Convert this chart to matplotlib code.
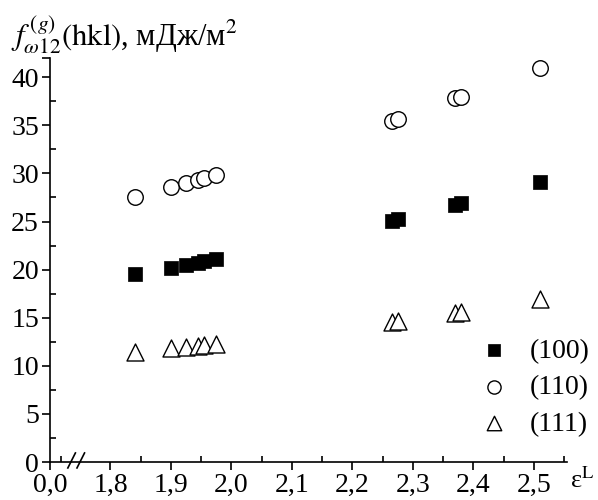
import matplotlib
matplotlib.use("Agg")
import matplotlib.pyplot as plt
import numpy as np

# strain values (x) and surface energies for three faces
eps = [1.84, 1.90, 1.925, 1.945, 1.955, 1.975, 2.265, 2.275, 2.37, 2.38, 2.51]
f100 = [19.5, 20.2, 20.5, 20.7, 20.9, 21.1, 25.1, 25.3, 26.7, 26.9, 29.1]
f110 = [27.6, 28.6, 29.0, 29.3, 29.5, 29.8, 35.5, 35.7, 37.8, 37.9, 41.0]
f111 = [11.4, 11.9, 12.0, 12.1, 12.2, 12.3, 14.6, 14.7, 15.5, 15.6, 16.9]
labels = ["(100)", "(110)", "(111)"]

xticks = [1.7, 1.8, 1.9, 2.0, 2.1, 2.2, 2.3, 2.4, 2.5]
xticklabels = ["0,0", "1,8", "1,9", "2,0", "2,1", "2,2", "2,3", "2,4", "2,5"]
yticks = [0, 5, 10, 15, 20, 25, 30, 35, 40, 42]
yticklabels = ["0", "5", "10", "15", "20", "25", "30", "35", "40", ""]

plt.rcParams["font.family"] = ["Liberation Serif", "DejaVu Serif"]
plt.rcParams["mathtext.fontset"] = "stix"

fig = plt.figure(figsize=(5.98, 5.0), dpi=100)
ax = fig.add_axes([50 / 598, 38 / 500, 517 / 598, 404 / 500])

ax.scatter(eps, f100, marker="s", s=100, c="black", edgecolors="black", linewidths=0.5, label=labels[0], zorder=3)
ax.scatter(eps, f110, marker="o", s=125, facecolors="white", edgecolors="black", linewidths=1.0, label=labels[1], zorder=3)
ax.scatter(eps, f111, marker="^", s=150, facecolors="white", edgecolors="black", linewidths=1.0, label=labels[2], zorder=3)

ax.set_xlim(1.7, 2.555)
ax.set_ylim(0, 42)
ax.spines["top"].set_visible(False)
ax.spines["right"].set_visible(False)
for s in ["left", "bottom"]:
    ax.spines[s].set_linewidth(1.2)

ax.set_xticks(xticks)
ax.set_xticklabels(xticklabels)
ax.set_xticks([1.718] + list(np.arange(1.85, 2.56, 0.1)), minor=True)
ax.set_yticks(yticks)
ax.set_yticklabels(yticklabels)
ax.set_yticks(np.arange(2.5, 42, 5), minor=True)
ax.tick_params(which="major", direction="out", length=6, width=1.2, labelsize=20, pad=2)
ax.tick_params(which="minor", direction="in", length=4, width=1.2)

# axis break marks
for x0 in [1.7295, 1.7446]:
    ax.plot([x0, x0 + 0.0125], [-0.62, 0.94], color="black", lw=1.2, clip_on=False, zorder=5)

ax.text(-0.075, 1.005, r"$f^{\,(g)}_{\omega 12}\left(\mathrm{hkl}\right)$, мДж/м$^2$", transform=ax.transAxes,
        fontsize=22, ha="left", va="bottom")
ax.text(2.56, -0.5, r"ε$^{\rm L}$", fontsize=19, ha="left", va="top")

ax.legend(loc="lower right", frameon=False, fontsize=20, handletextpad=0.3,
          labelspacing=0.4, borderaxespad=0.0, markerscale=0.85,
          bbox_to_anchor=(1.065, 0.035))

fig.savefig("out.png", dpi=100)
